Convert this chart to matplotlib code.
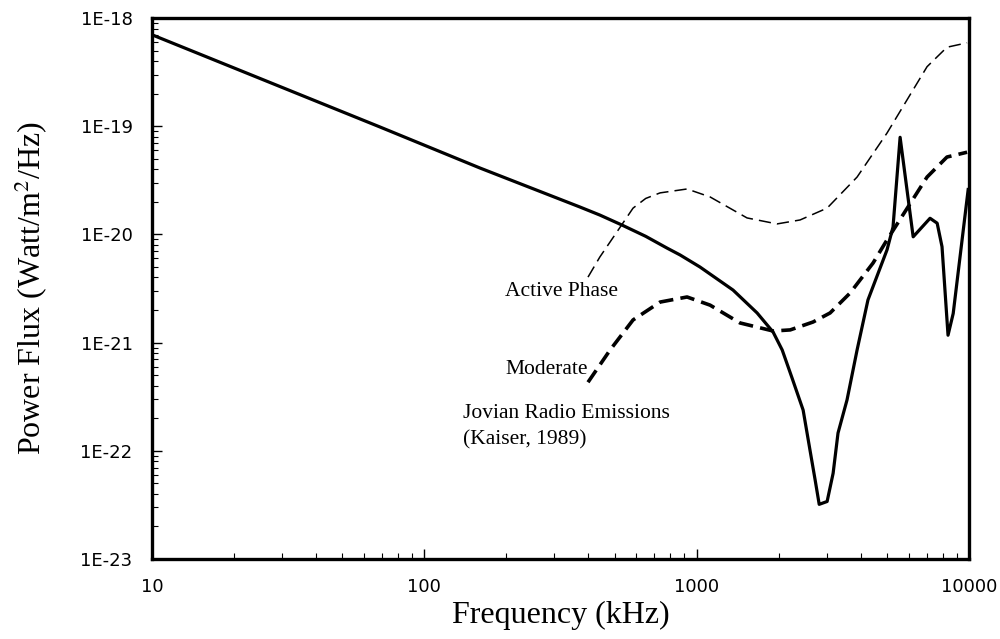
import matplotlib
matplotlib.use("Agg")
import matplotlib.pyplot as plt
from matplotlib.ticker import FixedLocator, FixedFormatter, LogLocator, NullFormatter

# Solid curve (no label)
solid_f = [10, 68.7, 160, 373, 441, 532, 650, 778, 869, 1028, 1360, 1667, 1909, 2061,
           2240, 2460, 2606, 2722, 2818, 3013, 3170, 3304, 3565, 3882, 4256, 5000, 5260,
           5585, 6237, 7194, 7640, 7960, 8375, 8750, 9930]
solid_p = [7.0e-19, 9.84e-20, 4.11e-20, 1.79e-20, 1.51e-20, 1.22e-20, 9.6e-21, 7.48e-21,
           6.46e-21, 5.0e-21, 3.06e-21, 1.88e-21, 1.25e-21, 8.55e-22, 4.71e-22,
           2.38e-22, 1.02e-22, 5.4e-23, 3.2e-23, 3.4e-23, 6.2e-23, 1.46e-22, 2.95e-22,
           8.55e-22, 2.48e-21, 7.2e-21, 1.17e-20, 7.9e-20, 9.5e-21, 1.41e-20, 1.27e-20,
           7.7e-21, 1.17e-21, 1.86e-21, 2.6e-20]

# Active phase (thin dashed)
active_f = [399, 441, 524, 584, 650, 734, 922, 1120, 1531, 1973, 2397, 3013, 3882, 5000,
            7015, 8300, 9840]
active_p = [4.03e-21, 6.18e-21, 1.17e-20, 1.75e-20, 2.15e-20, 2.42e-20, 2.63e-20,
            2.22e-20, 1.42e-20, 1.25e-20, 1.36e-20, 1.75e-20, 3.39e-20, 8.65e-20,
            3.55e-19, 5.37e-19, 5.9e-19]

# Moderate (thick dashed)
moderate_f = [399, 481, 584, 734, 922, 1120, 1442, 1909, 2205, 2675, 3090, 3658, 4443,
              5000, 7015, 8300, 9840]
moderate_p = [4.3e-22, 8.55e-22, 1.62e-21, 2.37e-21, 2.64e-21, 2.22e-21, 1.52e-21,
              1.28e-21, 1.31e-21, 1.55e-21, 1.88e-21, 2.87e-21, 5.44e-21, 8.9e-21,
              3.39e-20, 5.19e-20, 5.75e-20]

xticks = [10, 100, 1000, 10000]
xticklabels = ["10", "100", "1000", "10000"]
yticks = [1e-23, 1e-22, 1e-21, 1e-20, 1e-19, 1e-18]
yticklabels = ["1E-23", "1E-22", "1E-21", "1E-20", "1E-19", "1E-18"]

plt.rcParams["mathtext.fontset"] = "stix"

fig = plt.figure(figsize=(10, 6.39), dpi=100)
ax = fig.add_axes([0.152, 0.1252, 0.817, 0.8466])

ax.plot(solid_f, solid_p, color="black", lw=2.3)
ax.plot(active_f, active_p, color="black", lw=1.1, dashes=(8, 4))
ax.plot(moderate_f, moderate_p, color="black", lw=2.6, dashes=(4, 2))

ax.set_xscale("log")
ax.set_yscale("log")
ax.set_xlim(10, 10000)
ax.set_ylim(1e-23, 1e-18)

ax.xaxis.set_major_locator(FixedLocator(xticks))
ax.xaxis.set_major_formatter(FixedFormatter(xticklabels))
ax.yaxis.set_major_locator(FixedLocator(yticks))
ax.yaxis.set_major_formatter(FixedFormatter(yticklabels))
ax.xaxis.set_minor_locator(LogLocator(base=10, subs=range(2, 10), numticks=20))
ax.yaxis.set_minor_locator(LogLocator(base=10, subs=range(2, 10), numticks=20))
ax.xaxis.set_minor_formatter(NullFormatter())
ax.yaxis.set_minor_formatter(NullFormatter())

ax.tick_params(which="major", direction="in", length=7, width=1.0, labelsize=13, pad=14)
ax.tick_params(which="minor", direction="in", length=4, width=0.8)
for lab in ax.get_xticklabels() + ax.get_yticklabels():
    lab.set_family("DejaVu Sans")
for s in ax.spines.values():
    s.set_linewidth(2.4)

serif = "Liberation Serif"
ax.set_xlabel("Frequency (kHz)", family=serif, fontsize=23, labelpad=3)
ax.set_ylabel(r"Power Flux (Watt/m$^2$/Hz)", family=serif, fontsize=23, labelpad=22)

fs = 15.5
fig.text(0.505, 1 - 291 / 639, "Active Phase", family=serif, fontsize=fs, va="center")
fig.text(0.505, 1 - 370 / 639, "Moderate", family=serif, fontsize=fs, va="center")
fig.text(0.463, 1 - 414 / 639, "Jovian Radio Emissions", family=serif, fontsize=fs, va="center")
fig.text(0.463, 1 - 440 / 639, "(Kaiser, 1989)", family=serif, fontsize=fs, va="center")

fig.savefig("out.png", dpi=100)
